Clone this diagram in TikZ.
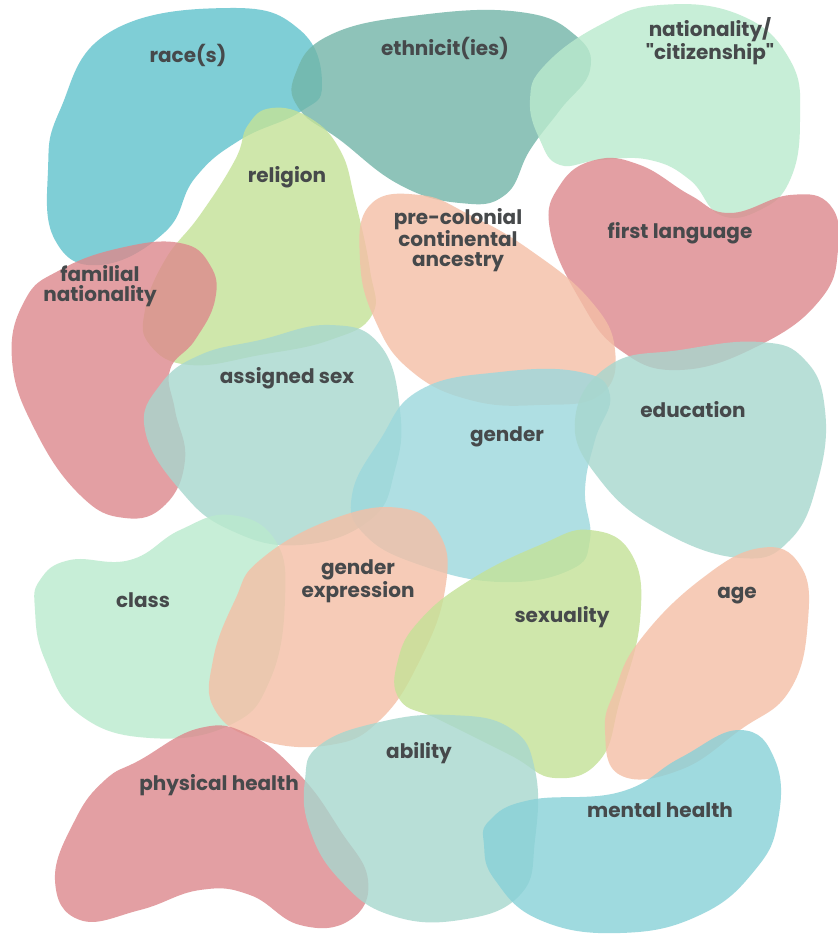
\documentclass[tikz,border=0pt]{standalone}
\usepackage{fontspec}
\newfontfamily\labfont{Poppins}
\definecolor{cTeal}{HTML}{60C2CC}
\definecolor{cSky}{HTML}{9CD8DD}
\definecolor{cAqua}{HTML}{88D1D8}
\definecolor{cDeep}{HTML}{72B5A8}
\definecolor{cMint}{HTML}{BAEACD}
\definecolor{cRose}{HTML}{DD888C}
\definecolor{cPeach}{HTML}{F4BFA6}
\definecolor{cLeaf}{HTML}{C4E297}
\definecolor{cSage}{HTML}{A7D7CE}
\definecolor{cInk}{HTML}{46494B}
\tikzset{
  blob/.style={fill opacity=0.8, draw=none},
  lab/.style={text=cInk, font=\labfont\fontsize{20}{20}\selectfont\bfseries, align=center, inner sep=0pt}
}
\begin{document}
\begin{tikzpicture}[x=1pt, y=-1pt]
\useasboundingbox[fill=white] (0,0) rectangle (838,940);
% top row
\fill[blob, fill=cTeal] plot[smooth cycle, tension=0.75] coordinates {(60,110) (110,32) (230,8) (300,30) (322,85) (300,112) (240,140) (195,178) (165,232) (100,265) (55,240) (48,170)};
\fill[blob, fill=cDeep] plot[smooth cycle, tension=0.75] coordinates {(295,75) (330,35) (420,15) (520,12) (575,35) (590,70) (560,110) (530,150) (505,195) (460,203) (400,185) (340,140) (300,110)};
\fill[blob, fill=cMint] plot[smooth cycle, tension=0.75] coordinates {(530,100) (545,65) (600,25) (660,5) (740,15) (790,60) (800,120) (790,180) (760,210) (720,215) (690,180) (650,160) (600,160) (560,165) (540,140)};
\fill[blob, fill=cLeaf] plot[smooth cycle, tension=0.75] coordinates {(272,108) (310,118) (340,150) (355,200) (370,270) (372,315) (330,340) (260,355) (190,365) (150,345) (145,310) (165,260) (200,215) (235,160) (248,125)};
\fill[blob, fill=cRose] plot[smooth cycle, tension=0.75] coordinates {(550,230) (560,185) (595,160) (640,165) (690,195) (730,213) (790,195) (830,205) (838,250) (820,300) (760,345) (680,370) (620,350) (580,300)};
\fill[blob, fill=cPeach] plot[smooth cycle, tension=0.75] coordinates {(370,205) (420,195) (470,215) (530,250) (590,300) (615,350) (600,395) (540,405) (470,400) (410,370) (375,320) (360,260)};
\fill[blob, fill=cRose] plot[smooth cycle, tension=0.75] coordinates {(60,270) (120,248) (180,243) (210,265) (215,300) (195,340) (170,370) (175,410) (185,460) (165,505) (125,518) (80,495) (35,430) (12,360) (25,300)};
% middle row
\fill[blob, fill=cSage] plot[smooth cycle, tension=0.75] coordinates {(160,385) (200,355) (260,340) (330,325) (380,345) (400,410) (395,470) (370,520) (300,545) (230,530) (180,490) (145,430)};
\fill[blob, fill=cSky] plot[smooth cycle, tension=0.75] coordinates {(420,390) (500,372) (580,372) (610,395) (595,440) (585,490) (590,540) (570,570) (500,582) (420,565) (365,535) (352,495) (380,440)};
\fill[blob, fill=cSage] plot[smooth cycle, tension=0.75] coordinates {(610,365) (680,350) (760,342) (805,360) (825,410) (818,480) (790,540) (740,558) (660,530) (600,480) (575,420)};
\fill[blob, fill=cMint] plot[smooth cycle, tension=0.75] coordinates {(40,580) (70,560) (130,560) (180,530) (230,515) (275,540) (285,600) (270,680) (230,725) (150,738) (80,715) (45,660) (35,610)};
\fill[blob, fill=cPeach] plot[smooth cycle, tension=0.75] coordinates {(260,560) (330,520) (400,508) (440,535) (445,590) (420,660) (380,720) (330,745) (260,740) (215,710) (213,660) (235,600)};
\fill[blob, fill=cLeaf] plot[smooth cycle, tension=0.75] coordinates {(470,580) (540,545) (590,530) (632,555) (640,620) (620,700) (600,760) (555,778) (510,755) (440,720) (400,700) (398,660) (420,620)};
\fill[blob, fill=cPeach] plot[smooth cycle, tension=0.75] coordinates {(640,640) (700,580) (760,548) (800,565) (808,620) (790,690) (740,730) (680,770) (620,775) (605,730) (615,690)};
% bottom row
\fill[blob, fill=cRose] plot[smooth cycle, tension=0.75] coordinates {(140,760) (200,728) (250,735) (300,775) (340,830) (368,880) (350,920) (300,925) (250,895) (200,890) (140,910) (80,920) (55,880) (75,820) (105,780)};
\fill[blob, fill=cSage] plot[smooth cycle, tension=0.75] coordinates {(320,745) (380,722) (450,715) (510,728) (535,770) (535,840) (520,895) (460,920) (390,915) (340,880) (310,830) (305,780)};
\fill[blob, fill=cAqua] plot[smooth cycle, tension=0.75] coordinates {(490,820) (530,800) (620,792) (680,758) (740,730) (775,760) (778,820) (755,870) (700,915) (620,933) (540,920) (495,880) (484,845)};
% labels
\node[lab] (race) at (188,55) {race(s)};
\node[lab] (ethn) at (445,48) {ethnicit(ies)};
\node[lab] (natl) at (710,41) {nationality/\\"citizenship"};
\node[lab] (reli) at (287,177) {religion};
\node[lab] (prec) at (458,240) {pre-colonial\\continental\\ancestry};
\node[lab] (lang) at (680,233) {first language};
\node[lab] (faml) at (100,286) {familial\\nationality};
\node[lab] (asex) at (287,378) {assigned sex};
\node[lab] (gend) at (507,437) {gender};
\node[lab] (educ) at (693,410) {education};
\node[lab] (clas) at (143,600) {class};
\node[lab] (gexp) at (358,581) {gender\\expression};
\node[lab] (sexu) at (562,617) {sexuality};
\node[lab] (age) at (737,596) {age};
\node[lab] (abil) at (419,753) {ability};
\node[lab] (phys) at (219,785) {physical health};
\node[lab] (ment) at (660,810) {mental health};
\end{tikzpicture}
\end{document}
